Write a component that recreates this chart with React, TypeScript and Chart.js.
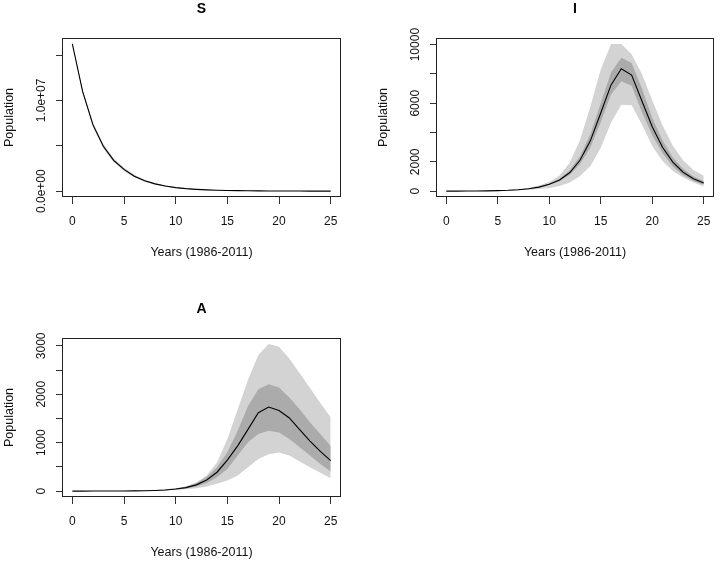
import React, { useEffect, useRef } from "react";
import { Chart, registerables } from "chart.js";

Chart.register(...registerables);

const years = [0, 1, 2, 3, 4, 5, 6, 7, 8, 9, 10, 11, 12, 13, 14, 15, 16, 17, 18, 19, 20, 21, 22, 23, 24, 25];
const xTicks = [0, 5, 10, 15, 20, 25];
const xTitle = "Years (1986-2011)";
const yTitle = "Population";

// S compartment
const sMedian = [16230000, 10960000, 7300000, 4950000, 3400000, 2400000, 1650000, 1150000, 800000, 560000, 390000, 275000, 195000, 140000, 100000, 72000, 52000, 38000, 28000, 21000, 16000, 12000, 9000, 7000, 5500, 4300];
const sInnerHi = [16230000, 11050000, 7420000, 5070000, 3510000, 2490000, 1720000, 1200000, 845000, 595000, 415000, 295000, 210000, 151000, 108000, 78000, 57000, 42000, 31000, 23500, 18000, 13500, 10200, 8000, 6200, 4900];
const sInnerLo = [16230000, 10870000, 7180000, 4830000, 3290000, 2310000, 1580000, 1095000, 760000, 525000, 365000, 257000, 181000, 129000, 92000, 66000, 47500, 34500, 25000, 18800, 14000, 10600, 8000, 6100, 4700, 3700];
const sOuterHi = [16230000, 11150000, 7550000, 5200000, 3620000, 2580000, 1800000, 1260000, 890000, 630000, 440000, 315000, 225000, 162000, 117000, 85000, 62000, 46000, 34000, 26000, 20000, 15000, 11500, 9000, 7000, 5600];
const sOuterLo = [16230000, 10780000, 7060000, 4710000, 3190000, 2230000, 1510000, 1040000, 720000, 495000, 345000, 240000, 168000, 119000, 85000, 60000, 43000, 31000, 22500, 16800, 12500, 9300, 7000, 5300, 4100, 3200];
const sYTicks = [0, 5000000, 10000000, 15000000];
const sYLabels = ["0.0e+00", "", "1.0e+07", ""];

// I compartment
const iMedian = [1, 2, 5, 10, 18, 32, 55, 95, 160, 275, 475, 760, 1270, 2120, 3450, 5330, 7250, 8350, 7920, 6150, 4400, 2990, 1980, 1290, 840, 560];
const iInnerHi = [1, 2, 5, 11, 20, 35, 61, 105, 178, 305, 525, 840, 1420, 2400, 3900, 6000, 8100, 9100, 8750, 7000, 5000, 3450, 2300, 1520, 1000, 690];
const iInnerLo = [1, 2, 4, 9, 16, 28, 49, 84, 140, 240, 420, 680, 1120, 1850, 3000, 4700, 6600, 7500, 7200, 5400, 3800, 2580, 1680, 1080, 690, 440];
const iOuterHi = [1, 2, 6, 12, 22, 40, 70, 125, 215, 380, 620, 1070, 1950, 3500, 5800, 8300, 10050, 10050, 9350, 8000, 6200, 4500, 3100, 2100, 1450, 1050];
const iOuterLo = [1, 1, 3, 6, 11, 20, 35, 58, 95, 150, 220, 350, 590, 1040, 1720, 2960, 4660, 5900, 5860, 4550, 3080, 2060, 1380, 930, 590, 320];
const iYTicks = [0, 2000, 4000, 6000, 8000, 10000];
const iYLabels = ["0", "2000", "", "6000", "", "10000"];

// A compartment
const aMedian = [0, 0, 1, 1, 2, 3, 5, 8, 14, 24, 42, 72, 129, 231, 390, 640, 935, 1275, 1620, 1735, 1665, 1510, 1270, 1030, 820, 628];
const aInnerHi = [0, 0, 1, 1, 2, 4, 6, 10, 17, 29, 50, 90, 165, 290, 493, 801, 1247, 1760, 2103, 2205, 2137, 1932, 1692, 1418, 1178, 930];
const aInnerLo = [0, 0, 0, 1, 1, 2, 3, 6, 10, 18, 33, 55, 95, 165, 288, 459, 733, 1007, 1178, 1247, 1212, 1075, 904, 733, 562, 404];
const aOuterHi = [0, 0, 1, 2, 3, 5, 8, 13, 22, 37, 60, 100, 180, 320, 593, 1070, 1684, 2300, 2810, 3040, 2980, 2740, 2435, 2128, 1820, 1527];
const aOuterLo = [0, 0, 0, 1, 1, 1, 2, 4, 7, 13, 25, 38, 60, 96, 150, 219, 322, 493, 664, 760, 795, 733, 610, 493, 377, 267];
const aYTicks = [0, 500, 1000, 1500, 2000, 2500, 3000];
const aYLabels = ["0", "", "1000", "", "2000", "", "3000"];

const FONT = "'Liberation Sans', Arial, Helvetica, sans-serif";
const OUTER = "#d3d3d3";
const INNER = "#ababab";
const INK = "#111111";

type Spec = {
  title: string;
  median: number[];
  innerHi: number[];
  innerLo: number[];
  outerHi: number[];
  outerLo: number[];
  yTicks: number[];
  yLabels: string[];
  yAxisWidth: number;
  padRight: number;
  yTitlePad: number;
};

const boxPlugin = {
  id: "rbox",
  afterDatasetsDraw(chart: any) {
    const { ctx, chartArea: a } = chart;
    ctx.save();
    ctx.strokeStyle = "#222";
    ctx.lineWidth = 1;
    const l = Math.round(a.left) + 0.5;
    const t = Math.round(a.top) + 0.5;
    ctx.strokeRect(l, t, Math.round(a.right) - Math.round(a.left) - 1, Math.round(a.bottom) - Math.round(a.top) - 1);
    ctx.restore();
  },
};

function makeYLabelPlugin(labels: string[]) {
  return {
    id: "rylabels",
    afterDraw(chart: any) {
      const s = chart.scales.y;
      const ctx = chart.ctx;
      ctx.save();
      ctx.fillStyle = INK;
      ctx.font = `12px ${FONT}`;
      ctx.textAlign = "center";
      ctx.textBaseline = "middle";
      s.ticks.forEach((t: any, i: number) => {
        const lab = labels[i];
        if (!lab) return;
        const y = s.getPixelForValue(t.value);
        ctx.save();
        ctx.translate(chart.chartArea.left - 20.5, y);
        ctx.rotate(-Math.PI / 2);
        ctx.fillText(lab, 0, 0);
        ctx.restore();
      });
      ctx.restore();
    },
  };
}

function Panel({ spec, left, top }: { spec: Spec; left: number; top: number }) {
  const ref = useRef<HTMLCanvasElement>(null);
  useEffect(() => {
    if (!ref.current) return;
    const pts = (arr: number[]) => years.map((x, i) => ({ x, y: arr[i] }));
    const all = [...spec.median, ...spec.innerHi, ...spec.innerLo, ...spec.outerHi, ...spec.outerLo];
    const lo = Math.min(...all);
    const hi = Math.max(...all);
    const r = hi - lo;
    const band = (arr: number[], fill: any, color: string) => ({
      data: pts(arr),
      borderWidth: 0,
      borderColor: "rgba(0,0,0,0)",
      backgroundColor: color,
      pointRadius: 0,
      fill,
    });
    const chart = new Chart(ref.current, {
      type: "line",
      data: {
        datasets: [
          { data: pts(spec.median), borderColor: "#000", borderWidth: 1.1, pointRadius: 0, fill: false, tension: 0 },
          band(spec.innerHi, "+1", INNER),
          band(spec.innerLo, false, INNER),
          band(spec.outerHi, "+1", OUTER),
          band(spec.outerLo, false, OUTER),
        ],
      },
      options: {
        responsive: false,
        animation: false,
        devicePixelRatio: 1,
        layout: { padding: { left: 0, right: spec.padRight, top: 0, bottom: 300 - 197 - 63 } },
        plugins: {
          legend: { display: false },
          tooltip: { enabled: false },
          title: {
            display: true,
            text: spec.title,
            fullSize: false,
            color: "#000",
            font: { family: FONT, size: 14, weight: "bold", lineHeight: 1.2 },
            padding: { top: 1.2, bottom: 20 },
          },
        },
        scales: {
          x: {
            type: "linear",
            min: -1,
            max: 26,
            afterBuildTicks: (s: any) => {
              s.ticks = xTicks.map((v) => ({ value: v }));
            },
            afterFit: (s: any) => {
              s.height = 63;
            },
            grid: { display: true, drawOnChartArea: false, drawTicks: true, tickLength: 7, color: "#333", lineWidth: 1 },
            border: { display: false },
            ticks: {
              color: INK,
              font: { family: FONT, size: 12, lineHeight: 1.2 },
              padding: 10,
              maxRotation: 0,
              autoSkip: false,
              callback: (v: any) => String(v),
            },
            title: {
              display: true,
              text: xTitle,
              color: INK,
              font: { family: FONT, size: 12.5, lineHeight: 1.2 },
              padding: { top: 0, bottom: 0 },
            },
          },
          y: {
            type: "linear",
            min: lo - 0.04 * r,
            max: hi + 0.04 * r,
            afterBuildTicks: (s: any) => {
              s.ticks = spec.yTicks.map((v) => ({ value: v }));
            },
            afterFit: (s: any) => {
              s.width = spec.yAxisWidth;
            },
            grid: { display: true, drawOnChartArea: false, drawTicks: true, tickLength: 6, color: "#333", lineWidth: 1 },
            border: { display: false },
            ticks: { display: false },
            title: {
              display: true,
              text: yTitle,
              color: INK,
              font: { family: FONT, size: 12.5, lineHeight: 1.2 },
              padding: { top: spec.yTitlePad, bottom: 0 },
            },
          },
        },
      } as any,
      plugins: [boxPlugin, makeYLabelPlugin(spec.yLabels)],
    });
    return () => chart.destroy();
  }, [spec]);
  return (
    <div style={{ position: "absolute", left, top, width: 362, height: 300 }}>
      <canvas ref={ref} width={362} height={300} style={{ display: "block" }} />
    </div>
  );
}

const S: Spec = { title: "S", median: sMedian, innerHi: sInnerHi, innerLo: sInnerLo, outerHi: sOuterHi, outerLo: sOuterLo, yTicks: sYTicks, yLabels: sYLabels, yAxisWidth: 62, padRight: 21, yTitlePad: 2.5 };
const I: Spec = { title: "I", median: iMedian, innerHi: iInnerHi, innerLo: iInnerLo, outerHi: iOuterHi, outerLo: iOuterLo, yTicks: iYTicks, yLabels: iYLabels, yAxisWidth: 74, padRight: 10, yTitlePad: 14.5 };
const A: Spec = { title: "A", median: aMedian, innerHi: aInnerHi, innerLo: aInnerLo, outerHi: aOuterHi, outerLo: aOuterLo, yTicks: aYTicks, yLabels: aYLabels, yAxisWidth: 62, padRight: 21, yTitlePad: 2.5 };

export default function App() {
  return (
    <div style={{ position: "absolute", left: 0, top: 0, width: 724, height: 565, overflow: "hidden", background: "#fff" }}>
      <Panel spec={S} left={0} top={0} />
      <Panel spec={I} left={362} top={0} />
      <Panel spec={A} left={0} top={300} />
    </div>
  );
}
